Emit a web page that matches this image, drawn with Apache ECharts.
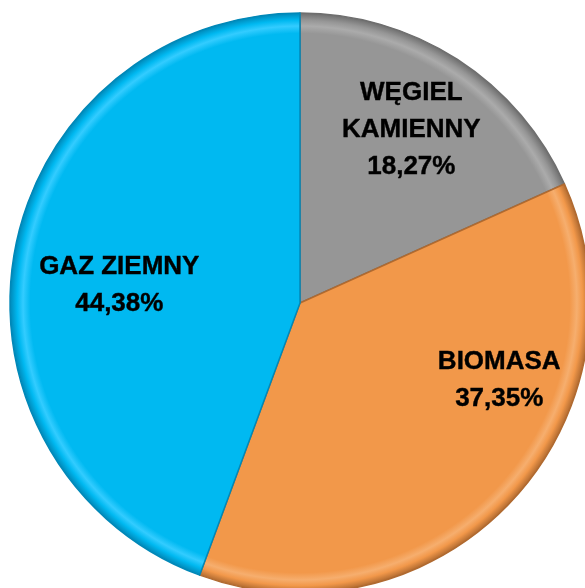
<!DOCTYPE html>
<html><head><meta charset="utf-8">
<script src="https://cdn.jsdelivr.net/npm/echarts@6/dist/echarts.min.js"></script>
<style>html,body{margin:0;padding:0;background:#fff}#c{width:585px;height:588px}</style>
</head><body><div id="c"></div>
<script>
const categories = ['WĘGIEL\nKAMIENNY', 'BIOMASA', 'GAZ ZIEMNY'];
const values = [18.27, 37.35, 44.38];
const labelTexts = ['18,27%', '37,35%', '44,38%'];
const baseColors = ['#969696', '#F2984A', '#00B9F1'];
const lightColors = ['#ABABAB', '#F6AE6E', '#33CCFF'];
const darkColors = ['#6E6E6E', '#B06A30', '#0088B8'];
const labelShift = [[31, -49], [91, -24], [-35, 8]];

const cx = 300, cy = 303, R = 290;
function grad(i) {
  return {
    type: 'radial', x: cx, y: cy, r: R, global: true,
    colorStops: [
      {offset: 0, color: baseColors[i]},
      {offset: 0.93, color: baseColors[i]},
      {offset: 0.955, color: lightColors[i]},
      {offset: 0.975, color: baseColors[i]},
      {offset: 1, color: darkColors[i]}
    ]
  };
}
const chart = echarts.init(document.getElementById('c'));
chart.setOption({
  animation: false,
  series: [{
    type: 'pie',
    center: [cx, cy],
    radius: [0, R],
    startAngle: 90,
    clockwise: true,
    data: categories.map((n, i) => ({
      name: n, value: values[i],
      itemStyle: {color: grad(i), borderColor: darkColors[i], borderWidth: 1.5}
    })),
    label: {
      show: true,
      position: 'inside',
      formatter: p => p.name + '\n' + labelTexts[p.dataIndex],
      fontFamily: 'Liberation Sans',
      fontWeight: 'bold',
      fontSize: 26,
      lineHeight: 37,
      color: '#000',
      align: 'center',
      textBorderColor: '#000',
      textBorderWidth: 0.4
    },
    labelLine: {show: false},
    labelLayout: p => ({dx: labelShift[p.dataIndex][0], dy: labelShift[p.dataIndex][1]}),
    emphasis: {disabled: true}
  }]
});
</script></body></html>
